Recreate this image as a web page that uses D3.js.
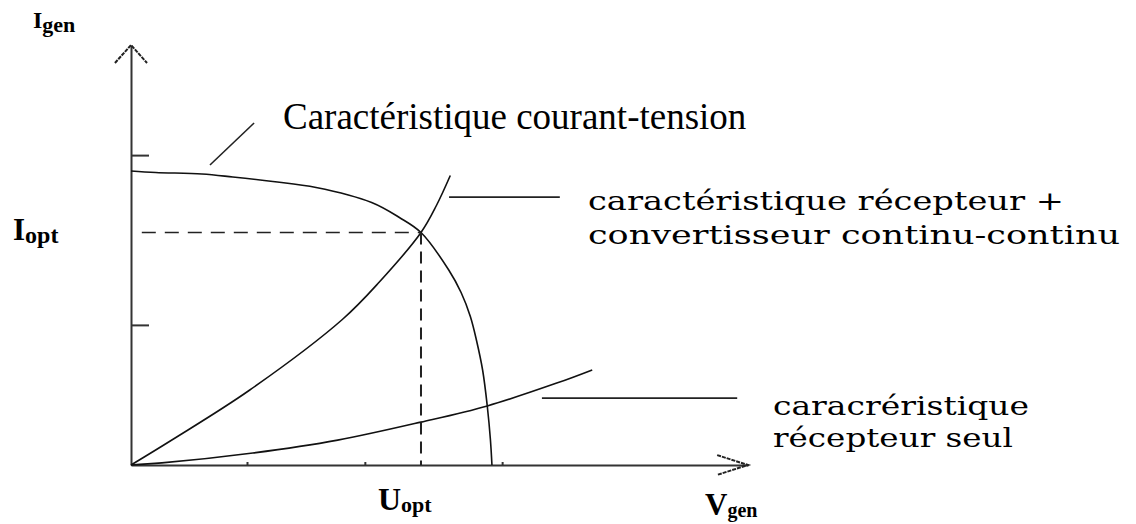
<!DOCTYPE html>
<html>
<head>
<meta charset="utf-8">
<script src="https://cdn.jsdelivr.net/npm/d3@7"></script>
<style>
body { margin: 0; background: #fff; }
</style>
</head>
<body>
<div id="chart"></div>
<script>
// caractéristique courant-tension du générateur (V, I en unités arbitraires)
const ivV = [0, 0.8, 2.3, 3.3, 4.6, 6.0, 7.8, 8.7, 9.4, 10.3, 10.7, 11.0, 11.2, 11.4, 11.55, 11.65, 11.7]
const ivI = [9.8, 9.75, 9.7, 9.6, 9.45, 9.25, 8.75, 8.25, 7.75, 6.5, 5.75, 4.95, 4.15, 3.15, 1.95, 0.85, 0]

// récepteur + convertisseur continu-continu
const convV = [0, 1.35, 3.85, 6.85, 8.05, 9.4, 9.9, 10.35]
const convI = [0, 0.85, 2.5, 4.85, 6.1, 7.75, 8.65, 9.65]

// récepteur seul
const seulV = [0, 1.0, 3.95, 6.7, 9.4, 11.55, 13.8, 14.95]
const seulI = [0, 0.07, 0.4, 0.83, 1.43, 1.97, 2.73, 3.17]

// point de fonctionnement optimal
const Uopt = 9.4, Iopt = 7.75

const yTicks = [4.67, 10.33]
const xTicks = [3.76, 7.58, 12.03]
const xMax = 20, yMax = 14

const width = 1136, height = 524

let svg = d3.select('#chart')
.append('svg')
.attr('width', width)
.attr('height', height)

let xScale = d3.scaleLinear()
.domain([0, xMax])
.range([131, 748])

let yScale = d3.scaleLinear()
.domain([0, yMax])
.range([465, 45])

const zip = (xs, ys) => xs.map((x, i) => [x, ys[i]])

let lineFunc = d3.line()
.x(d => xScale(d[0]))
.y(d => yScale(d[1]))
.curve(d3.curveCatmullRom)

let straight = d3.line()
.x(d => xScale(d[0]))
.y(d => yScale(d[1]))

// axes
svg.append('g')
.attr('transform', `translate(${xScale(0)}, 0)`)
.call(d3.axisRight(yScale).tickValues(yTicks).tickSize(18).tickSizeOuter(0).tickFormat(''))
.call(g => g.selectAll('path, line').attr('stroke', '#333').attr('stroke-width', 2))

svg.append('g')
.attr('transform', `translate(0, ${yScale(0)})`)
.call(d3.axisBottom(xScale).tickValues(xTicks).tickSize(-3).tickSizeOuter(0).tickFormat(''))
.call(g => g.select('path').attr('stroke', '#333').attr('stroke-width', 2))
.call(g => g.selectAll('line').attr('stroke', '#333').attr('stroke-width', 2))

// flèches
const arrowUp = [[-0.52, 13.4], [0, yMax], [0.52, 13.4]]
const arrowRight = [[xMax - 1.0, 0.33], [xMax, 0], [xMax - 1.0, -0.33]]
svg.selectAll('.arrow')
.data([arrowUp, arrowRight])
.join('path')
.attr('class', 'arrow')
.attr('d', straight)
.attr('fill', 'none')
.attr('stroke', '#222')
.attr('stroke-width', 2)
.attr('stroke-dasharray', '4,1')

// courbes
svg.selectAll('.curve')
.data([zip(ivV, ivI), zip(convV, convI), zip(seulV, seulI)])
.join('path')
.attr('class', 'curve')
.attr('d', lineFunc)
.attr('fill', 'none')
.attr('stroke', '#111')
.attr('stroke-width', 1.6)

// pointillés Iopt / Uopt
svg.append('path')
.attr('d', straight([[0.35, Iopt], [Uopt, Iopt]]))
.attr('stroke', '#222')
.attr('stroke-width', 1.6)
.attr('stroke-dasharray', '14,9')

svg.append('path')
.attr('d', straight([[Uopt, Iopt], [Uopt, 0]]))
.attr('stroke', '#222')
.attr('stroke-width', 2)
.attr('stroke-dasharray', '12,7')

// traits de rappel des légendes
const pointers = [
	[[2.56, 10.0], [3.99, 11.4]],
	[[10.31, 8.93], [13.9, 8.93]],
	[[13.32, 2.23], [19.65, 2.23]]
]
svg.selectAll('.pointer')
.data(pointers)
.join('path')
.attr('class', 'pointer')
.attr('d', straight)
.attr('stroke', '#222')
.attr('stroke-width', 1.6)

// légendes
svg.append('text')
.attr('x', 283).attr('y', 129)
.style('font-family', '"Liberation Serif", serif')
.style('font-size', '37px')
.text('Caractéristique courant-tension')

const convLines = ['caractéristique récepteur +', 'convertisseur continu-continu']
const seulLines = ['caracréristique', 'récepteur seul']

svg.selectAll('.convLabel')
.data(convLines)
.join('text')
.attr('class', 'convLabel')
.attr('x', 588)
.attr('y', (d, i) => 210 + i * 34)
.attr('textLength', (d, i) => [476, 532][i])
.attr('lengthAdjust', 'spacingAndGlyphs')
.style('font-family', '"DejaVu Serif", serif')
.style('font-size', '26px')
.text(d => d)

svg.selectAll('.seulLabel')
.data(seulLines)
.join('text')
.attr('class', 'seulLabel')
.attr('x', 773)
.attr('y', (d, i) => 415 + i * 32)
.attr('textLength', (d, i) => [256, 240][i])
.attr('lengthAdjust', 'spacingAndGlyphs')
.style('font-family', '"DejaVu Serif", serif')
.style('font-size', '26px')
.text(d => d)

// étiquettes des axes
const axisLabels = [
	{ main: 'I', sub: 'gen', x: 33, y: 28, size: 24, subSize: 22, shift: 4 },
	{ main: 'I', sub: 'opt', x: 13, y: 240, size: 31, subSize: 24, shift: 3 },
	{ main: 'U', sub: 'opt', x: 378, y: 510, size: 32, subSize: 22, shift: 2 },
	{ main: 'V', sub: 'gen', x: 705, y: 515, size: 31, subSize: 20, shift: 2 }
]

axisLabels.forEach(l => {
	let t = svg.append('text')
	.attr('x', l.x).attr('y', l.y)
	.style('font-family', '"Liberation Serif", serif')
	.style('font-weight', 'bold')
	t.append('tspan').style('font-size', l.size + 'px').text(l.main)
	t.append('tspan').style('font-size', l.subSize + 'px').attr('dy', l.shift).text(l.sub)
})
</script>
</body>
</html>
